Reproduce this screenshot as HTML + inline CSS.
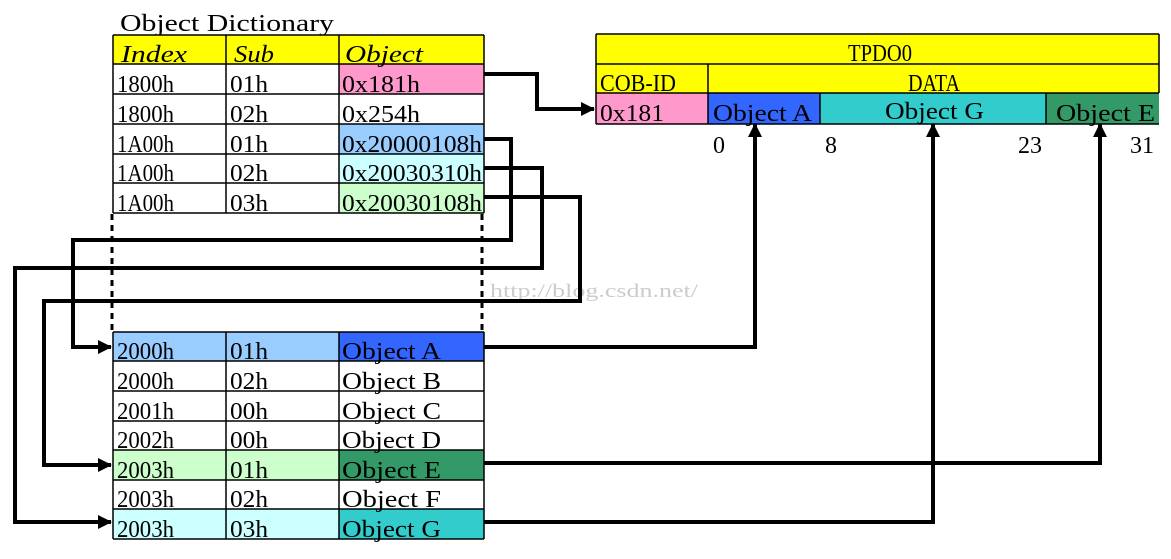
<!DOCTYPE html>
<html><head><meta charset="utf-8"><style>
html,body{margin:0;padding:0;background:#fff;width:1171px;height:559px;overflow:hidden}
svg text{font-family:"Liberation Serif",serif;font-size:24px;fill:#000}
</style></head><body>
<svg width="1171" height="559" xmlns="http://www.w3.org/2000/svg">
<defs>
<marker id="ah2" markerWidth="14" markerHeight="14" refX="13" refY="7" orient="auto" markerUnits="userSpaceOnUse">
<path d="M0,0 L14,7 L0,14 z" fill="#000"/></marker></defs>

<text x="120" y="31" textLength="214" lengthAdjust="spacingAndGlyphs">Object Dictionary</text>
<!-- upper table -->
<rect x="113" y="35" width="371" height="29" fill="#ffff00"/>
<rect x="339" y="64" width="145" height="30" fill="#ff99cc"/>
<rect x="339" y="124" width="145" height="30" fill="#99ccff"/>
<rect x="339" y="154" width="145" height="29" fill="#ccffff"/>
<rect x="339" y="183" width="145" height="30" fill="#ccffcc"/>
<g stroke="#000" stroke-width="1.5" fill="none">
<path d="M113,35H484M113,64H484M113,94H484M113,124H484M113,154H484M113,183H484M113,213H484"/>
<path d="M113,35V213M226,35V213M339,35V213M484,35V213"/>
</g>
<text x="121" y="62" textLength="66" lengthAdjust="spacingAndGlyphs" style="font-style:italic">Index</text><text x="234" y="62" textLength="40" lengthAdjust="spacingAndGlyphs" style="font-style:italic">Sub</text><text x="345" y="62" textLength="78" lengthAdjust="spacingAndGlyphs" style="font-style:italic">Object</text>
<text x="117" y="92" textLength="57" lengthAdjust="spacingAndGlyphs">1800h</text><text x="230" y="92" textLength="38" lengthAdjust="spacingAndGlyphs">01h</text><text x="342" y="92" textLength="78" lengthAdjust="spacingAndGlyphs">0x181h</text>
<text x="117" y="122" textLength="57" lengthAdjust="spacingAndGlyphs">1800h</text><text x="230" y="122" textLength="38" lengthAdjust="spacingAndGlyphs">02h</text><text x="342" y="122" textLength="78" lengthAdjust="spacingAndGlyphs">0x254h</text>
<text x="117" y="152" textLength="57" lengthAdjust="spacingAndGlyphs">1A00h</text><text x="230" y="152" textLength="38" lengthAdjust="spacingAndGlyphs">01h</text><text x="342" y="152" textLength="140" lengthAdjust="spacingAndGlyphs">0x20000108h</text>
<text x="117" y="181" textLength="57" lengthAdjust="spacingAndGlyphs">1A00h</text><text x="230" y="181" textLength="38" lengthAdjust="spacingAndGlyphs">02h</text><text x="342" y="181" textLength="140" lengthAdjust="spacingAndGlyphs">0x20030310h</text>
<text x="117" y="211" textLength="57" lengthAdjust="spacingAndGlyphs">1A00h</text><text x="230" y="211" textLength="38" lengthAdjust="spacingAndGlyphs">03h</text><text x="342" y="211" textLength="140" lengthAdjust="spacingAndGlyphs">0x20030108h</text>

<g stroke="#000" stroke-width="3" stroke-dasharray="6,5"><path d="M112,214V330M482,214V330"/></g>
<text x="490" y="297" textLength="208" lengthAdjust="spacingAndGlyphs" style="fill:#ccc;font-size:19px">http://blog.csdn.net/</text>

<!-- lower table -->
<rect x="113" y="332" width="226" height="29" fill="#99ccff"/>
<rect x="339" y="332" width="145" height="29" fill="#3366ff"/>
<rect x="113" y="450" width="226" height="30" fill="#ccffcc"/>
<rect x="339" y="450" width="145" height="30" fill="#339966"/>
<rect x="113" y="509" width="226" height="30" fill="#ccffff"/>
<rect x="339" y="509" width="145" height="30" fill="#33cccc"/>
<g stroke="#000" stroke-width="1.5" fill="none">
<path d="M113,332H484M113,361H484M113,391H484M113,421H484M113,450H484M113,480H484M113,509H484M113,539H484"/>
<path d="M113,332V539M226,332V539M339,332V539M484,332V539"/>
</g>
<text x="117" y="359" textLength="57" lengthAdjust="spacingAndGlyphs">2000h</text><text x="230" y="359" textLength="38" lengthAdjust="spacingAndGlyphs">01h</text><text x="342" y="359" textLength="99" lengthAdjust="spacingAndGlyphs">Object A</text>
<text x="117" y="389" textLength="57" lengthAdjust="spacingAndGlyphs">2000h</text><text x="230" y="389" textLength="38" lengthAdjust="spacingAndGlyphs">02h</text><text x="342" y="389" textLength="99" lengthAdjust="spacingAndGlyphs">Object B</text>
<text x="117" y="419" textLength="57" lengthAdjust="spacingAndGlyphs">2001h</text><text x="230" y="419" textLength="38" lengthAdjust="spacingAndGlyphs">00h</text><text x="342" y="419" textLength="99" lengthAdjust="spacingAndGlyphs">Object C</text>
<text x="117" y="448" textLength="57" lengthAdjust="spacingAndGlyphs">2002h</text><text x="230" y="448" textLength="38" lengthAdjust="spacingAndGlyphs">00h</text><text x="342" y="448" textLength="99" lengthAdjust="spacingAndGlyphs">Object D</text>
<text x="117" y="478" textLength="57" lengthAdjust="spacingAndGlyphs">2003h</text><text x="230" y="478" textLength="38" lengthAdjust="spacingAndGlyphs">01h</text><text x="342" y="478" textLength="99" lengthAdjust="spacingAndGlyphs">Object E</text>
<text x="117" y="507" textLength="57" lengthAdjust="spacingAndGlyphs">2003h</text><text x="230" y="507" textLength="38" lengthAdjust="spacingAndGlyphs">02h</text><text x="342" y="507" textLength="99" lengthAdjust="spacingAndGlyphs">Object F</text>
<text x="117" y="537" textLength="57" lengthAdjust="spacingAndGlyphs">2003h</text><text x="230" y="537" textLength="38" lengthAdjust="spacingAndGlyphs">03h</text><text x="342" y="537" textLength="99" lengthAdjust="spacingAndGlyphs">Object G</text>

<!-- TPDO -->
<rect x="596" y="34" width="563" height="59" fill="#ffff00"/>
<rect x="596" y="93" width="112" height="31" fill="#ff99cc"/>
<rect x="708" y="93" width="112" height="31" fill="#3366ff"/>
<rect x="820" y="93" width="226" height="31" fill="#33cccc"/>
<rect x="1046" y="93" width="113" height="31" fill="#339966"/>
<g stroke="#000" stroke-width="1.5" fill="none">
<path d="M596,34H1159M596,64H1159M596,93H1159M596,124H1159"/>
<path d="M596,34V124M1159,34V93M708,64V124M820,93V124M1046,93V124"/>
</g>
<text x="848" y="61" textLength="64" lengthAdjust="spacingAndGlyphs">TPDO0</text>
<text x="600" y="91" textLength="76" lengthAdjust="spacingAndGlyphs">COB-ID</text><text x="908" y="91" textLength="52" lengthAdjust="spacingAndGlyphs">DATA</text>
<text x="600" y="121" textLength="64" lengthAdjust="spacingAndGlyphs">0x181</text>
<text x="713" y="121" textLength="99" lengthAdjust="spacingAndGlyphs">Object A</text><text x="885" y="119" textLength="99" lengthAdjust="spacingAndGlyphs">Object G</text><text x="1056" y="121" textLength="99" lengthAdjust="spacingAndGlyphs">Object E</text>
<text x="713" y="153">0</text><text x="825" y="153">8</text><text x="1018" y="153">23</text><text x="1130" y="153">31</text>

<!-- connectors -->
<g stroke="#000" stroke-width="4" fill="none" stroke-linejoin="miter">
<path d="M484,74H537V109H594" marker-end="url(#ah2)"/>
<path d="M484,139H511V240H73V347H111" marker-end="url(#ah2)"/>
<path d="M484,168H542V268H15V522H111" marker-end="url(#ah2)"/>
<path d="M484,197H580V301H44V465H111" marker-end="url(#ah2)"/>
<path d="M484,347H755V124" marker-end="url(#ah2)"/>
<path d="M484,463H1100V124" marker-end="url(#ah2)"/>
<path d="M484,522H933V124" marker-end="url(#ah2)"/>
</g>
</svg>
</body></html>
